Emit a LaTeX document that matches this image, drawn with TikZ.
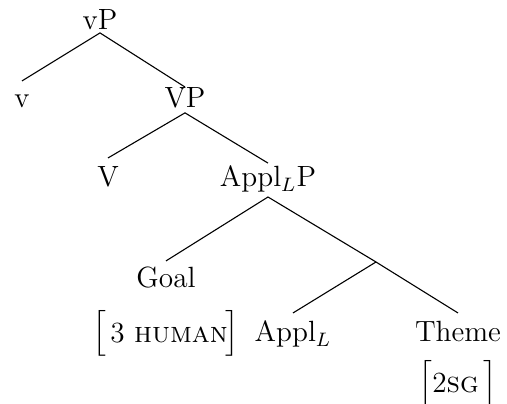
\documentclass[tikz,border=0pt]{standalone}
\usepackage{amsmath}
\usepackage{graphicx}
% square brackets of a feature list, slightly taller than the text
\newcommand{\fbrack}[1]{\raisebox{1.2pt}{\scalebox{1}[0.87]{$\nulldelimiterspace=0pt\left#1\vrule height 12pt depth 6pt width 0pt\right.$}}}
% feature list: left gap, features, right gap
\newcommand{\featbox}[3]{\fbrack[\kern#1#2\kern#3\fbrack]}
\begin{document}
\begin{tikzpicture}[x=0.41pt,y=-0.41pt,
  lab/.style={anchor=base,inner sep=0pt,outer sep=0pt,font=\fontsize{12}{14.5}\selectfont},
  edge/.style={line width=0.45pt}]
\useasboundingbox (0,0) rectangle (507,404);
% labelled nodes, placed on their baselines
\node[lab,text depth=1.2pt] (vP) at (100,30) {vP};
\node[lab,text height=11.1pt] (v) at (22,108) {v};
\node[lab,text height=8.6pt,text depth=2.0pt] (VP) at (185,108) {VP};
\node[lab,text height=11.9pt] (V) at (108,187) {V};
\node[lab,text height=9.8pt,text depth=4.1pt] (ApplP) at (268,187) {Appl$_L$P};
\node[lab,text height=11.1pt] (Goal) at (166,288) {Goal};
\node[lab] (GoalF) at (166,343) {\featbox{1.5pt}{3 \textsc{human}}{-1pt}};
\node[lab,text height=11.9pt] (Appl) at (293,342) {Appl$_L$};
\node[lab,text height=11.9pt] (Theme) at (458,342) {Theme};
\node[lab] (ThemeF) at (458,393) {\featbox{0pt}{2\textsc{sg}}{2pt}};
% unlabelled branching point
\coordinate (j) at (376,262);
% branches
\draw[edge] (v.north) -- (vP.south) -- (VP.north);
\draw[edge] (V.north) -- (VP.south) -- (ApplP.north);
\draw[edge] (Goal.north) -- (ApplP.south) -- (j);
\draw[edge] (Appl.north) -- (j) -- (Theme.north);
\end{tikzpicture}
\end{document}
